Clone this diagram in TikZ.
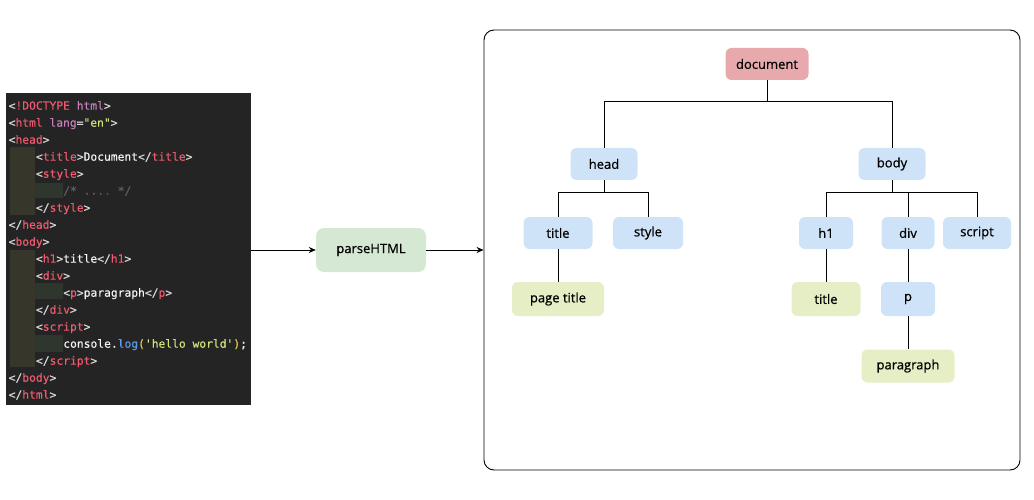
\documentclass[tikz,border=0pt]{standalone}
\usepackage{fontspec}
\setmonofont{DejaVu Sans Mono}[FakeBold=0.3]
\newfontfamily\tnfont{Open Sans}[FakeBold=0.7]
\usetikzlibrary{arrows.meta}
\definecolor{codebg}{HTML}{242424}
\definecolor{guideA}{HTML}{37362A}
\definecolor{guideB}{HTML}{2E362E}
\definecolor{cbr}{HTML}{D8D8D8}
\definecolor{ctag}{HTML}{EF5A6F}
\definecolor{catt}{HTML}{C77DBB}
\definecolor{cstr}{HTML}{D2E27A}
\definecolor{ctxt}{HTML}{F4F4F4}
\definecolor{ccom}{HTML}{5E5E5E}
\definecolor{cfn}{HTML}{5C9CF0}
\definecolor{cpar}{HTML}{E6C84A}
\definecolor{nblue}{HTML}{CFE3F8}
\definecolor{ngreen}{HTML}{E6EEC6}
\definecolor{npink}{HTML}{E8A9AD}
\definecolor{nparse}{HTML}{D5E8D4}
\newcommand\Bk[1]{\textcolor{cbr}{#1}}
\newcommand\Tg[1]{\textcolor{ctag}{#1}}
\newcommand\At[1]{\textcolor{catt}{#1}}
\newcommand\St[1]{\textcolor{cstr}{#1}}
\newcommand\Tx[1]{\textcolor{ctxt}{#1}}
\newcommand\Cm[1]{\textcolor{ccom}{#1}}
\newcommand\Fn[1]{\textcolor{cfn}{#1}}
\newcommand\Pn[1]{\textcolor{cpar}{#1}}
\tikzset{
  codeline/.style={anchor=base west, inner sep=0pt, font=\ttfamily\fontsize{11.3}{13}\selectfont},
  tn/.style={rounded corners=6pt, minimum height=32pt, inner sep=0pt, text=black, font=\tnfont\fontsize{13}{15}\selectfont},
  bnode/.style={tn, fill=nblue},
  gnode/.style={tn, fill=ngreen},
  conn/.style={draw=black, line width=0.9pt},
  arr/.style={draw=black, line width=0.8pt, -{Stealth[length=7pt,width=6pt]}}
}
\begin{document}
\begin{tikzpicture}[x=1pt,y=-1pt]
\useasboundingbox (0,0) rectangle (1034,500);
% code panel
\node[fill=codebg, minimum width=245pt, minimum height=312pt, inner sep=0pt, anchor=north west] (code) at (6,93) {};
\fill[guideA] (9.5,147) rectangle (35,215);
\fill[guideA] (9.5,250) rectangle (35,367);
\fill[guideB] (35,183) rectangle (63,198);
\fill[guideB] (35,283) rectangle (63,299);
\fill[guideB] (35,335) rectangle (63,352);
\node[codeline] (l1) at (8.5,109.7) {\Bk{<}\Tg{!DOCTYPE} \At{html}\Bk{>}};
\node[codeline] (l2) at (8.5,126.7) {\Bk{<}\Tg{html} \At{lang}\Bk{=}\St{"en"}\Bk{>}};
\node[codeline] (l3) at (8.5,143.7) {\Bk{<}\Tg{head}\Bk{>}};
\node[codeline] (l4) at (35.8,160.7) {\Bk{<}\Tg{title}\Bk{>}\Tx{Document}\Bk{</}\Tg{title}\Bk{>}};
\node[codeline] (l5) at (35.8,177.7) {\Bk{<}\Tg{style}\Bk{>}};
\node[codeline] (l6) at (63.1,194.7) {\Cm{/* .... */}};
\node[codeline] (l7) at (35.8,211.7) {\Bk{</}\Tg{style}\Bk{>}};
\node[codeline] (l8) at (8.5,228.7) {\Bk{</}\Tg{head}\Bk{>}};
\node[codeline] (l9) at (8.5,245.7) {\Bk{<}\Tg{body}\Bk{>}};
\node[codeline] (l10) at (35.8,262.7) {\Bk{<}\Tg{h1}\Bk{>}\Tx{title}\Bk{</}\Tg{h1}\Bk{>}};
\node[codeline] (l11) at (35.8,279.7) {\Bk{<}\Tg{div}\Bk{>}};
\node[codeline] (l12) at (63.1,296.7) {\Bk{<}\Tg{p}\Bk{>}\Tx{paragraph}\Bk{</}\Tg{p}\Bk{>}};
\node[codeline] (l13) at (35.8,313.7) {\Bk{</}\Tg{div}\Bk{>}};
\node[codeline] (l14) at (35.8,330.7) {\Bk{<}\Tg{script}\Bk{>}};
\node[codeline] (l15) at (63.1,347.7) {\Tx{console.}\Fn{log}\Pn{(}\St{'hello world'}\Pn{)}\Tx{;}};
\node[codeline] (l16) at (35.8,364.7) {\Bk{</}\Tg{script}\Bk{>}};
\node[codeline] (l17) at (8.5,381.7) {\Bk{</}\Tg{body}\Bk{>}};
\node[codeline] (l18) at (8.5,398.7) {\Bk{</}\Tg{html}\Bk{>}};
% parse node
\node[tn, fill=nparse, minimum width=110pt, minimum height=44pt, rounded corners=8pt] (parse) at (371,250) {parseHTML};
% tree frame
\node[draw=black, line width=0.9pt, rounded corners=10pt, minimum width=536pt, minimum height=440pt, inner sep=0pt] (tree) at (752,250) {};
\draw[arr] (code.east |- parse.west) -- (parse.west);
\draw[arr] (parse.east) -- (tree.west);
% tree nodes
\node[tn, fill=npink, minimum width=83pt] (doc) at (767,64) {document};
\node[bnode, minimum width=67pt] (head) at (604,164) {head};
\node[bnode, minimum width=67pt] (body) at (892,164) {body};
\node[bnode, minimum width=69pt] (title) at (558,233) {title};
\node[bnode, minimum width=70pt] (style) at (648,233) {style};
\node[gnode, minimum width=92pt, minimum height=34pt] (ptitle) at (558,299) {page title};
\node[bnode, minimum width=54pt] (h1) at (826,233) {h1};
\node[bnode, minimum width=53pt] (div) at (908,233) {div};
\node[bnode, minimum width=68pt] (script) at (977,233) {script};
\node[gnode, minimum width=69pt, minimum height=34pt] (htitle) at (826,299) {title};
\node[bnode, minimum width=54pt, minimum height=34pt] (p) at (908,299) {p};
\node[gnode, minimum width=93pt, minimum height=33pt] (para) at (908,366) {paragraph};
% connectors
\coordinate (j0) at (767,101);
\coordinate (j1) at (604,192);
\coordinate (j2) at (892,192);
\draw[conn] (doc.south) -- (j0) -| (head.north);
\draw[conn] (j0) -| (body.north);
\draw[conn] (head.south) -- (j1) -| (title.north);
\draw[conn] (j1) -| (style.north);
\draw[conn] (body.south) -- (j2) -| (h1.north);
\draw[conn] (j2) -| (script.north);
\draw[conn] (j2 -| div.north) -- (div.north);
\draw[conn] (title.south) -- (ptitle.north);
\draw[conn] (h1.south) -- (htitle.north);
\draw[conn] (div.south) -- (p.north);
\draw[conn] (p.south) -- (para.north);
\end{tikzpicture}
\end{document}
